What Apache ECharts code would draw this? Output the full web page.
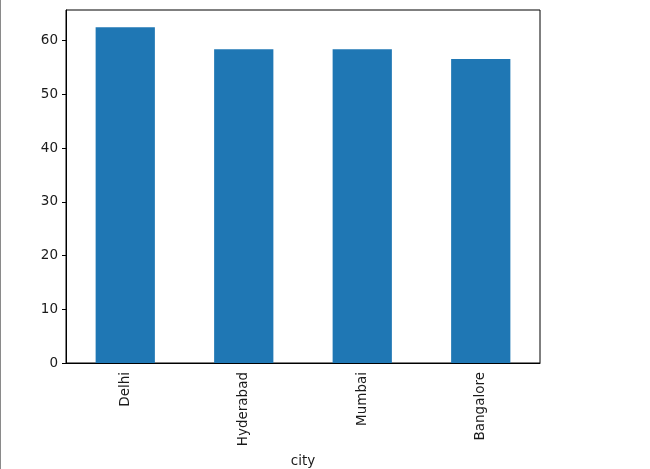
<!DOCTYPE html>
<html>
<head>
<meta charset="utf-8">
<script src="https://cdn.jsdelivr.net/npm/echarts@6/dist/echarts.min.js"></script>
<style>
  html, body { margin: 0; padding: 0; background: #fff; }
  #chart { width: 649px; height: 469px; border-left: 1px solid #8a8a8a; }
</style>
</head>
<body>
<div id="chart"></div>
<script>
// mean values per city
const cities = ['Delhi', 'Hyderabad', 'Mumbai', 'Bangalore'];
const values = [62.5, 58.4, 58.4, 56.6];
const yTicks = [0, 10, 20, 30, 40, 50, 60];

const chart = echarts.init(document.getElementById('chart'));
const font = 'DejaVu Sans';

const option = {
    animation: false,
    textStyle: {fontFamily: font},
    grid: {
        left: 65, right: 110, top: 10, bottom: 106,
        outerBoundsMode: 'none',
        containLabel: false,
        show: true, borderColor: '#000', borderWidth: 1
    },
    xAxis: {
        type: 'category',
        data: cities,
        name: 'city',
        nameLocation: 'middle',
        nameGap: 85,
        nameTextStyle: {fontFamily: font, fontSize: 13.5, color: '#1a1a1a'},
        axisLine: {lineStyle: {color: '#000', width: 1}},
        axisTick: {alignWithLabel: true, length: 4, lineStyle: {color: '#000'}},
        axisLabel: {rotate: 90, fontFamily: font, fontSize: 13.5, color: '#1a1a1a', margin: 9}
    },
    yAxis: {
        type: 'value',
        min: 0,
        max: 65.7,
        interval: 10,
        splitLine: {show: false},
        axisLine: {show: true, lineStyle: {color: '#000', width: 1}},
        axisTick: {show: true, length: 4, lineStyle: {color: '#000'}, customValues: yTicks},
        axisLabel: {fontFamily: font, fontSize: 13.5, color: '#1a1a1a', margin: 8, customValues: yTicks}
    },
    series: [{
        type: 'bar',
        data: values,
        barCategoryGap: '50%',
        itemStyle: {color: '#1f77b4'}
    }]
};

chart.setOption(option);
</script>
</body>
</html>
